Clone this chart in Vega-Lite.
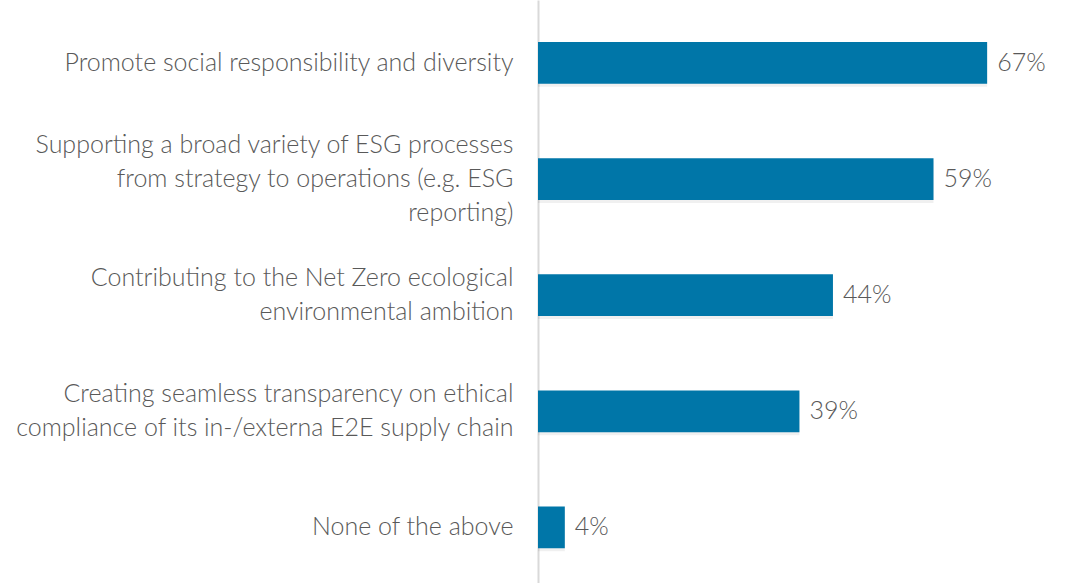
{
  "$schema": "https://vega.github.io/schema/vega-lite/v6.json",
  "width": 545,
  "height": 583,
  "autosize": {"type": "none"},
  "padding": {"left": 538, "top": 0, "right": 0, "bottom": 0},
  "background": "white",
  "config": {"view": {"stroke": null}, "font": "Lato"},
  "data": {"values": [
    {"category": "Promote social responsibility and diversity", "value": 0.67},
    {"category": "Supporting a broad variety of ESG processes|from strategy to operations (e.g. ESG|reporting)", "value": 0.59},
    {"category": "Contributing to the Net Zero ecological|environmental ambition", "value": 0.44},
    {"category": "Creating seamless transparency on ethical|compliance of its in-/externa E2E supply chain", "value": 0.39},
    {"category": "None of the above", "value": 0.04}
  ]},
  "encoding": {
    "y": {
      "field": "category", "type": "nominal", "sort": null, "title": null,
      "scale": {"paddingInner": 0.64, "paddingOuter": 0.33, "align": 0.548},
      "axis": {
        "ticks": false, "domain": true, "domainColor": "#d9d9d9", "domainWidth": 2,
        "labelPadding": 25, "labelFontSize": 25, "labelColor": "#595959", "labelFont": "Lato",
        "labelFontWeight": 300, "labelLineHeight": 34, "labelLimit": 540,
        "labelExpr": "split(datum.label, '|')", "grid": false,
        "labelOffset": {
          "condition": [
            {"test": "length(split(datum.label, '|')) == 3", "value": -34},
            {"test": "length(split(datum.label, '|')) == 2", "value": -17}
          ],
          "value": 0
        }
      }
    },
    "x": {
      "field": "value", "type": "quantitative", "title": null,
      "scale": {"domain": [0, 0.813], "nice": false},
      "axis": null
    }
  },
  "layer": [
    {"mark": {"type": "bar", "color": "#000000", "opacity": 0.06, "yOffset": 3, "x2Offset": 4}},
    {"mark": {"type": "bar", "color": "#0076A8", "cornerRadius": 0}},
    {"mark": {"type": "text", "align": "left", "baseline": "middle", "dx": 10, "fontSize": 25, "fontWeight": 300, "color": "#595959", "font": "Lato"},
     "encoding": {"text": {"field": "value", "type": "quantitative", "format": ".0%"}}}
  ]
}
